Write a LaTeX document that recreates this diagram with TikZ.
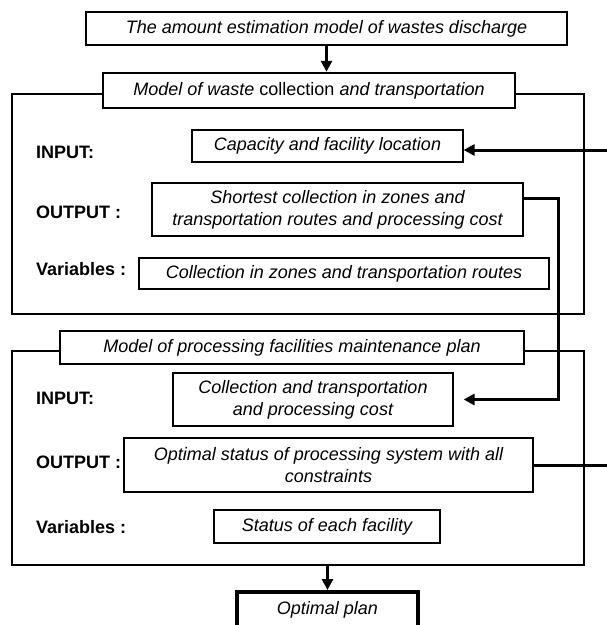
\documentclass[tikz,border=0pt]{standalone}
\usepackage{fontspec}
\setmainfont{Liberation Sans}
\usetikzlibrary{arrows.meta}

\begin{document}
\begin{tikzpicture}[x=1pt, y=-1pt,
    box/.style={draw, line width=1.2pt, fill=white, inner sep=0pt, align=center,
      font=\fontsize{18}{22}\selectfont\itshape},
    headbox/.style={box, line width=2.5pt},
    frame/.style={draw, line width=2pt, inner sep=0pt},
    tag/.style={anchor=west, inner sep=0pt, font=\fontsize{18}{22}\selectfont\bfseries},
    flow/.style={line width=3pt, -{Triangle[length=11pt,width=11pt]}},
    plain/.style={line width=3pt}]
  \useasboundingbox (0,0) rectangle (607,625);

  \node[headbox, minimum width=481, minimum height=33] (top) at (326.5,28.5) {The amount estimation model of wastes discharge};

  % first model
  \node[frame, minimum width=572, minimum height=220] (o1) at (298,204) {};
  \node[headbox, minimum width=412, minimum height=35] (h1) at (309,90.5) {Model of waste {\upshape collection} and transportation};
  \node[tag] (lin1) at (36,152) {INPUT:};
  \node[tag] (lout1) at (36,212) {OUTPUT :};
  \node[tag] (lvar1) at (36,269) {Variables :};
  \node[box, minimum width=271, minimum height=32] (in1) at (327.5,146) {Capacity and facility location};
  \node[box, minimum width=371, minimum height=53] (out1) at (337.5,209.5) {Shortest collection in zones and\\transportation routes and processing cost};
  \node[box, minimum width=410, minimum height=31] (var1) at (344,273.5) {Collection in zones and transportation routes};

  % second model
  \node[frame, minimum width=572, minimum height=214] (o2) at (298,458) {};
  \node[headbox, minimum width=464, minimum height=33] (h2) at (292,347.5) {Model of processing facilities maintenance plan};
  \node[tag] (lin2) at (36,398) {INPUT:};
  \node[tag] (lout2) at (36,462) {OUTPUT :};
  \node[tag] (lvar2) at (36,527) {Variables :};
  \node[box, minimum width=280, minimum height=53] (in2) at (313,399.5) {Collection and transportation\\and processing cost};
  \node[box, minimum width=409, minimum height=54] (out2) at (328.5,465) {Optimal status of processing system with all\\constraints};
  \node[box, minimum width=226, minimum height=33] (var2) at (327,526.5) {Status of each facility};

  \node[headbox, line width=4pt, minimum width=181, minimum height=36] (plan) at (327.5,610) {Optimal plan};

  \coordinate (fb1) at (607,150);
  \coordinate (fb2) at (607,462);
  \coordinate (bend) at (558,0);

  \draw[flow] (top.south) -- (top.south |- h1.north);
  \draw[flow] (fb1) -- (in1.east |- fb1);
  \draw[flow, shorten >=10pt] ([yshift=-16pt]out1.north east) -| (bend |- in2.east) -- (in2.east);
  \draw[plain] (out2.east) -- (fb2 |- out2.east);
  \draw[flow] (plan.north |- o2.south) -- (plan.north);
\end{tikzpicture}
\end{document}
